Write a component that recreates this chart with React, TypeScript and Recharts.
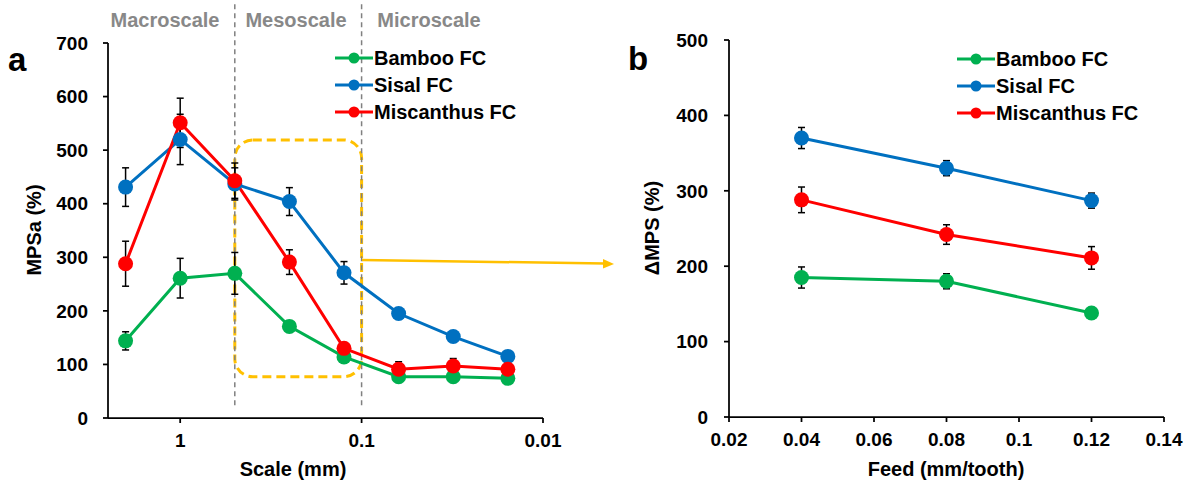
import React from "react";
import {
  LineChart,
  Line,
  XAxis,
  YAxis,
  ErrorBar,
  Legend,
  ReferenceLine,
  ReferenceArea,
} from "recharts";

const FONT = '"Liberation Sans", Arial, Helvetica, sans-serif';

// panel a - scale in mm (log axis, reversed)
const SCALE_MM = [2, 1, 0.5, 0.25, 0.125, 0.0625, 0.03125, 0.015625];
const BAMBOO_A = [144, 261, 270, 171, 114, 77, 77, 74];
const BAMBOO_A_ERR = [17, 37, 39, 9, 6, 6, 5, 4];
const SISAL_A = [431, 520, 437, 404, 271, 195, 152, 115];
const SISAL_A_ERR = [36, 47, 30, 26, 21, 10, 5, 4];
const MISC_A = [288, 551, 443, 291, 130, 91, 97, 91];
const MISC_A_ERR = [42, 46, 33, 23, 8, 14, 14, 5];
const SCALE_TICKS = [1, 0.1, 0.01];
const MPSA_TICKS = [0, 100, 200, 300, 400, 500, 600, 700];

// panel b - feed in mm/tooth
const FEED = [0.04, 0.08, 0.12];
const BAMBOO_B = [185, 180, 138];
const BAMBOO_B_ERR = [14, 10, 4];
const SISAL_B = [370, 330, 287];
const SISAL_B_ERR = [14, 10, 10];
const MISC_B = [288, 242, 211];
const MISC_B_ERR = [17, 13, 15];
const FEED_TICKS = [0.02, 0.04, 0.06, 0.08, 0.1, 0.12, 0.14];
const MPS_TICKS = [0, 100, 200, 300, 400, 500];

const SERIES = [
  { key: "bamboo", name: "Bamboo FC", color: "#00B050" },
  { key: "sisal", name: "Sisal FC", color: "#0070C0" },
  { key: "misc", name: "Miscanthus FC", color: "#FF0000" },
];

const dataA = SCALE_MM.map((s, i) => ({
  scale: s,
  bamboo: BAMBOO_A[i],
  bambooErr: BAMBOO_A_ERR[i],
  sisal: SISAL_A[i],
  sisalErr: SISAL_A_ERR[i],
  misc: MISC_A[i],
  miscErr: MISC_A_ERR[i],
}));

const dataB = FEED.map((f, i) => ({
  feed: f,
  bamboo: BAMBOO_B[i],
  bambooErr: BAMBOO_B_ERR[i],
  sisal: SISAL_B[i],
  sisalErr: SISAL_B_ERR[i],
  misc: MISC_B[i],
  miscErr: MISC_B_ERR[i],
}));

const tickStyle = { fill: "#000", fontSize: 19, fontWeight: 700, fontFamily: FONT };
const axisStyle = { stroke: "#000", strokeWidth: 1.75 };

const renderLegend = () => (
  <div>
    {SERIES.map((s) => (
      <div key={s.key} style={{ display: "flex", alignItems: "center", height: 27 }}>
        <svg width={38} height={14}>
          <line x1={0} y1={7} x2={38} y2={7} stroke={s.color} strokeWidth={3} />
          <circle cx={19} cy={7} r={5.5} fill={s.color} />
        </svg>
        <span
          style={{
            marginLeft: 1,
            fontSize: 20,
            fontWeight: 700,
            color: "#000",
            fontFamily: FONT,
            lineHeight: "27px",
            whiteSpace: "nowrap",
          }}
        >
          {s.name}
        </span>
      </div>
    ))}
  </div>
);

function seriesLines() {
  return SERIES.map((s) => (
    <Line
      key={s.key}
      dataKey={s.key}
      name={s.name}
      stroke={s.color}
      strokeWidth={3}
      dot={{ r: 7.5, fill: s.color, stroke: s.color, strokeWidth: 0 }}
      activeDot={false}
      isAnimationActive={false}
    >
      <ErrorBar dataKey={s.key + "Err"} direction="y" width={3.5} stroke="#000" strokeWidth={1.5} />
    </Line>
  ));
}

function PanelA() {
  return (
    <LineChart width={600} height={483} data={dataA} margin={{ top: 43, right: 57, bottom: 0, left: 0 }}>
      <XAxis
        dataKey="scale"
        type="number"
        scale="log"
        domain={[0.01, 2.5]}
        reversed
        allowDataOverflow
        ticks={SCALE_TICKS}
        interval={0}
        height={65}
        tickSize={5}
        tickMargin={11}
        tick={tickStyle}
        axisLine={axisStyle}
        tickLine={axisStyle}
      />
      <XAxis xAxisId="top" orientation="top" type="number" domain={[0, 1]} height={0} tick={false} tickLine={false} axisLine={axisStyle} />
      <YAxis
        type="number"
        domain={[0, 700]}
        ticks={MPSA_TICKS}
        interval={0}
        width={108}
        tickSize={5}
        tickMargin={15}
        tick={tickStyle}
        axisLine={axisStyle}
        tickLine={axisStyle}
      />
      <YAxis yAxisId="right" orientation="right" type="number" domain={[0, 1]} width={0} tick={false} tickLine={false} axisLine={axisStyle} />
      <ReferenceLine
        segment={[{ x: 0.5, y: 24 }, { x: 0.5, y: 780 }]}
        ifOverflow="visible"
        stroke="#808080"
        strokeWidth={1.5}
        strokeDasharray="5 4"
      />
      <ReferenceLine
        segment={[{ x: 0.1, y: 24 }, { x: 0.1, y: 780 }]}
        ifOverflow="visible"
        stroke="#808080"
        strokeWidth={1.5}
        strokeDasharray="5 4"
      />
      <ReferenceArea
        x1={0.5}
        x2={0.1}
        y1={77}
        y2={519}
        ifOverflow="visible"
        shape={(p: any) => (
          <rect
            x={p.x}
            y={p.y}
            width={p.width}
            height={p.height}
            rx={18}
            ry={18}
            fill="none"
            stroke="#FFC000"
            strokeWidth={3}
            strokeDasharray="9 5"
          />
        )}
      />
      {seriesLines()}
      <Legend
        layout="vertical"
        align="center"
        verticalAlign="middle"
        content={renderLegend}
        wrapperStyle={{ left: 335, top: 44.5, width: 220, right: "auto", bottom: "auto" }}
      />
    </LineChart>
  );
}

function PanelB() {
  return (
    <LineChart width={589} height={483} data={dataB} margin={{ top: 40, right: 25, bottom: 0, left: 0 }}>
      <XAxis
        dataKey="feed"
        type="number"
        domain={[0.02, 0.14]}
        ticks={FEED_TICKS}
        interval={0}
        height={66}
        tickSize={5}
        tickMargin={11}
        tick={tickStyle}
        axisLine={axisStyle}
        tickLine={axisStyle}
      />
      <XAxis xAxisId="top" orientation="top" type="number" domain={[0, 1]} height={0} tick={false} tickLine={false} axisLine={axisStyle} />
      <YAxis
        type="number"
        domain={[0, 500]}
        ticks={MPS_TICKS}
        interval={0}
        width={129}
        tickSize={5}
        tickMargin={16}
        tick={tickStyle}
        axisLine={axisStyle}
        tickLine={axisStyle}
      />
      <YAxis yAxisId="right" orientation="right" type="number" domain={[0, 1]} width={0} tick={false} tickLine={false} axisLine={axisStyle} />
      {seriesLines()}
      <Legend
        layout="vertical"
        align="center"
        verticalAlign="middle"
        content={renderLegend}
        wrapperStyle={{ left: 357, top: 45.5, width: 220, right: "auto", bottom: "auto" }}
      />
    </LineChart>
  );
}

const boldText = { fontFamily: FONT, fontWeight: 700 };

export default function App() {
  return (
    <div style={{ position: "absolute", left: 0, top: 0, width: 1189, height: 483, background: "#fff", fontFamily: FONT }}>
      <div style={{ position: "absolute", left: 0, top: 0 }}>
        <PanelA />
      </div>
      <div style={{ position: "absolute", left: 600, top: 0 }}>
        <PanelB />
      </div>
      <svg width={1189} height={483} style={{ position: "absolute", left: 0, top: 0, pointerEvents: "none" }}>
        <text x={8} y={71} fontSize={33} {...boldText} fill="#000">a</text>
        <text x={628} y={70} fontSize={33} {...boldText} fill="#000">b</text>
        <text x={165} y={27} fontSize={20} {...boldText} fill="#888" textAnchor="middle">Macroscale</text>
        <text x={296} y={27} fontSize={20} {...boldText} fill="#888" textAnchor="middle">Mesoscale</text>
        <text x={429} y={27} fontSize={20} {...boldText} fill="#888" textAnchor="middle">Microscale</text>
        <text x={293} y={476} fontSize={20} {...boldText} fill="#000" textAnchor="middle">Scale (mm)</text>
        <text x={946} y={476} fontSize={20} {...boldText} fill="#000" textAnchor="middle">Feed (mm/tooth)</text>
        <text x={41} y={230} fontSize={20} {...boldText} fill="#000" textAnchor="middle" transform="rotate(-90 41 230)">MPSa (%)</text>
        <text x={659} y={228} fontSize={20} {...boldText} fill="#000" textAnchor="middle" transform="rotate(-90 659 228)">ΔMPS (%)</text>
        <line x1={362} y1={260} x2={605} y2={263.5} stroke="#FFC000" strokeWidth={2.5} />
        <polygon points="614,264 603,259 603,268.5" fill="#FFC000" />
      </svg>
    </div>
  );
}
